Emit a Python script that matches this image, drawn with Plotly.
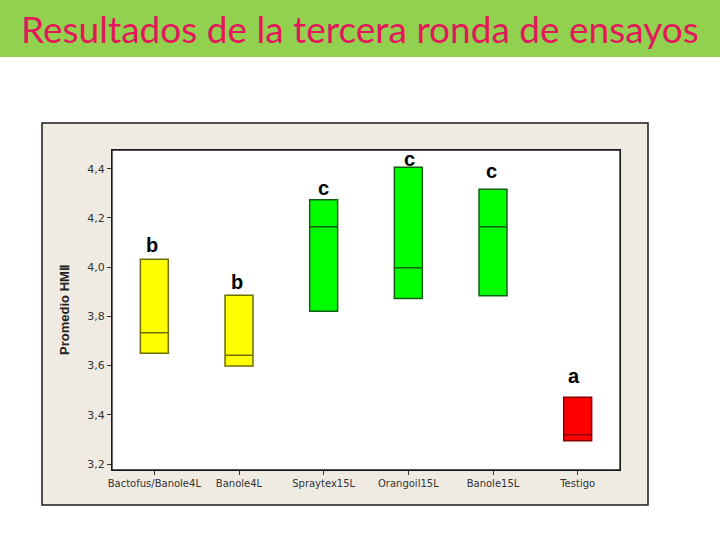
import plotly.graph_objects as go

categories = ["Bactofus/Banole4L", "Banole4L", "Spraytex15L", "Orangoil15L", "Banole15L", "Testigo"]
q1_values = [3.650, 3.598, 3.821, 3.873, 3.884, 3.295]
median_values = [3.734, 3.642, 4.164, 3.998, 4.164, 3.319]
q3_values = [4.032, 3.886, 4.274, 4.406, 4.317, 3.472]
group_letters = ["b", "b", "c", "c", "c", "a"]
letter_y = [4.090, 3.940, 4.320, 4.440, 4.390, 3.557]
fill_colors = ["#FFFF00", "#FFFF00", "#00FF00", "#00FF00", "#00FF00", "#FF0000"]
line_colors = ["#6E6E00", "#6E6E00", "#116011", "#116011", "#116011", "#8A0000"]
y_ticks = [3.2, 3.4, 3.6, 3.8, 4.0, 4.2, 4.4]

W, H = 720, 540
px0, px1 = 112, 620   # plot area x pixels
py0, py1 = 150, 470   # plot area y pixels (top, bottom)
sx = px1 - px0
sy = py1 - py0

fig = go.Figure()
for i, cat in enumerate(categories):
    fig.add_trace(go.Box(
        x=[cat], q1=[q1_values[i]], median=[median_values[i]], q3=[q3_values[i]],
        lowerfence=[q1_values[i]], upperfence=[q3_values[i]],
        fillcolor=fill_colors[i], line=dict(color=line_colors[i], width=1.5),
        width=0.33, whiskerwidth=0, boxpoints=False, showlegend=False,
        hoverinfo="skip",
    ))

# group letters above boxes
letter_xshift = [-2, -2, 0, 1, -2, -4]
for i, cat in enumerate(categories):
    fig.add_annotation(x=cat, y=letter_y[i], text="<b>" + group_letters[i] + "</b>",
                       showarrow=False, yanchor="middle", xshift=letter_xshift[i],
                       font=dict(family="Liberation Sans", size=20, color="black"))

shapes = [
    # green title band
    dict(type="rect", xref="paper", yref="paper", x0=-px0 / sx, x1=(W - px0) / sx,
         y0=(py1 - 57) / sy, y1=(py1 + 2) / sy,
         fillcolor="#92D050", line=dict(width=0), layer="below"),
    # beige chart frame
    dict(type="rect", xref="paper", yref="paper",
         x0=(42 - px0) / sx, x1=(648 - px0) / sx,
         y0=(py1 - 505) / sy, y1=(py1 - 123) / sy,
         fillcolor="#EFEBE3", line=dict(color="#1a1a1a", width=1.5), layer="below"),
    # white plot area
    dict(type="rect", xref="paper", yref="paper", x0=0, x1=1, y0=0, y1=1,
         fillcolor="white", line=dict(color="#1a1a1a", width=1.3), layer="below"),
]

fig.add_annotation(xref="paper", yref="paper",
                   x=(360 - px0) / sx, y=(py1 - 29) / sy,
                   text="Resultados de la tercera ronda de ensayos", showarrow=False,
                   xanchor="center", yanchor="middle",
                   font=dict(family="Lato", size=37, color="#E2185B"))

fig.update_layout(
    width=W, height=H,
    margin=dict(l=px0, r=W - px1, t=py0, b=H - py1, pad=0),
    paper_bgcolor="white", plot_bgcolor="rgba(0,0,0,0)",
    separators=",.",
    shapes=shapes,
    xaxis=dict(range=[-0.5, 5.5], type="category", showgrid=False, zeroline=False,
               ticks="outside", ticklen=4, tickcolor="#333", showline=True,
               linecolor="#1a1a1a", linewidth=1.3, mirror=True,
               tickfont=dict(family="DejaVu Sans", size=10, color="#333")),
    yaxis=dict(range=[3.176, 4.476], tickvals=y_ticks, tickformat=".1f",
               showgrid=False, zeroline=False, ticks="outside", ticklen=4, tickcolor="#333",
               showline=True, linecolor="#1a1a1a", linewidth=1.3, mirror=True,
               tickfont=dict(family="DejaVu Sans", size=11, color="#333"),
               title=dict(text="<b>Promedio HMⅡ</b>", standoff=14,
                          font=dict(family="Liberation Sans", size=13, color="#222"))),
)

fig.write_html("out.html", config={"displayModeBar": False},
               post_script="document.body.style.margin='0px';")
